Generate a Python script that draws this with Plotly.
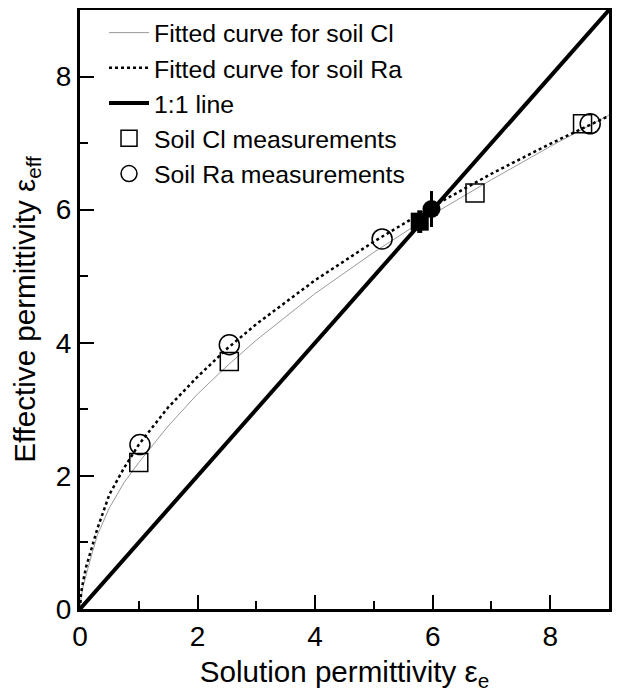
import plotly.graph_objects as go

# Fitted curves
curve_x = [0, 0.02, 0.05, 0.1, 0.2, 0.3, 0.5, 0.75, 1, 1.5, 2, 2.5, 3, 4, 5, 6, 7, 8, 9]
cl_curve_y = [0, 0.18, 0.33, 0.50, 0.82, 1.12, 1.52, 1.90, 2.2, 2.75, 3.23, 3.65, 4.04, 4.74, 5.36, 5.93, 6.45, 6.95, 7.42]
ra_curve_y = [0, 0.25, 0.40, 0.62, 0.92, 1.22, 1.72, 2.12, 2.47, 3.03, 3.49, 3.91, 4.28, 4.94, 5.52, 6.05, 6.54, 6.99, 7.41]

# 1:1 line
one_x = [0, 9]
one_y = [0, 9]

# Measurements
cl_x = [1.0, 2.54, 6.72, 8.55]
cl_y = [2.2, 3.72, 6.25, 7.29]
ra_x = [1.02, 2.54, 5.14, 8.68]
ra_y = [2.47, 3.97, 5.56, 7.29]

# Filled (reference) points
cl_ref_x = [5.78]
cl_ref_y = [5.82]
cl_ref_err = [0.17]
ra_ref_x = [5.98]
ra_ref_y = [6.01]
ra_ref_err = [0.27]

FONT = "Liberation Sans, Arial, sans-serif"

fig = go.Figure()

fig.add_trace(go.Scatter(x=curve_x, y=cl_curve_y, mode="lines", name="Fitted curve for soil Cl",
                         line=dict(color="#9a9a9a", width=1), legendgroup="a"))
fig.add_trace(go.Scatter(x=curve_x, y=ra_curve_y, mode="lines", name="Fitted curve for soil Ra",
                         line=dict(color="black", width=2.5, dash="dot"), legendgroup="b"))
fig.add_trace(go.Scatter(x=one_x, y=one_y, mode="lines", name="1:1 line",
                         line=dict(color="black", width=4), legendgroup="c"))
fig.add_trace(go.Scatter(x=cl_x, y=cl_y, mode="markers", name="Soil Cl measurements",
                         marker=dict(symbol="square-open", size=18, color="black", line=dict(width=1.5)),
                         legendgroup="d"))
fig.add_trace(go.Scatter(x=ra_x, y=ra_y, mode="markers", name="Soil Ra measurements",
                         marker=dict(symbol="circle-open", size=20, color="black", line=dict(width=1.5)),
                         legendgroup="e"))
fig.add_trace(go.Scatter(x=cl_ref_x, y=cl_ref_y, mode="markers", showlegend=False,
                         marker=dict(symbol="square", size=18, color="black"),
                         error_y=dict(type="data", array=cl_ref_err, color="black", thickness=5, width=0)))
fig.add_trace(go.Scatter(x=ra_ref_x, y=ra_ref_y, mode="markers", showlegend=False,
                         marker=dict(symbol="circle", size=18, color="black"),
                         error_y=dict(type="data", array=ra_ref_err, color="black", thickness=3, width=0)))

axis_common = dict(
    range=[0, 9], showgrid=False, zeroline=False, automargin=False,
    showline=True, linewidth=3, linecolor="black", mirror=True,
    ticks="inside", ticklen=14, tickwidth=2, tickcolor="black",
    tickvals=[0, 2, 4, 6, 8],
    tickfont=dict(family=FONT, size=28, color="black"),
    minor=dict(ticks="inside", ticklen=8, tickwidth=2, tickcolor="black", dtick=1, tick0=0, showgrid=False),
)

fig.update_layout(
    width=612, height=684,
    margin=dict(l=72, r=11, t=2, b=83),
    plot_bgcolor="white", paper_bgcolor="white",
    font=dict(family=FONT, color="black"),
    xaxis=dict(axis_common, title=dict(text="Solution permittivity ε<sub>e</sub>",
                                       font=dict(family=FONT, size=29.6), standoff=17)),
    yaxis=dict(axis_common, title=dict(text="Effective permittivity ε<sub>eff</sub>",
                                       font=dict(family=FONT, size=29.6), standoff=14)),
    legend=dict(x=0.0454, y=1.0, xanchor="left", yanchor="top",
                bgcolor="rgba(0,0,0,0)",
                font=dict(family=FONT, size=24.8, color="black"), itemwidth=40,
                tracegroupgap=3, traceorder="normal"),
    showlegend=True,
)

fig.write_html("out.html")
